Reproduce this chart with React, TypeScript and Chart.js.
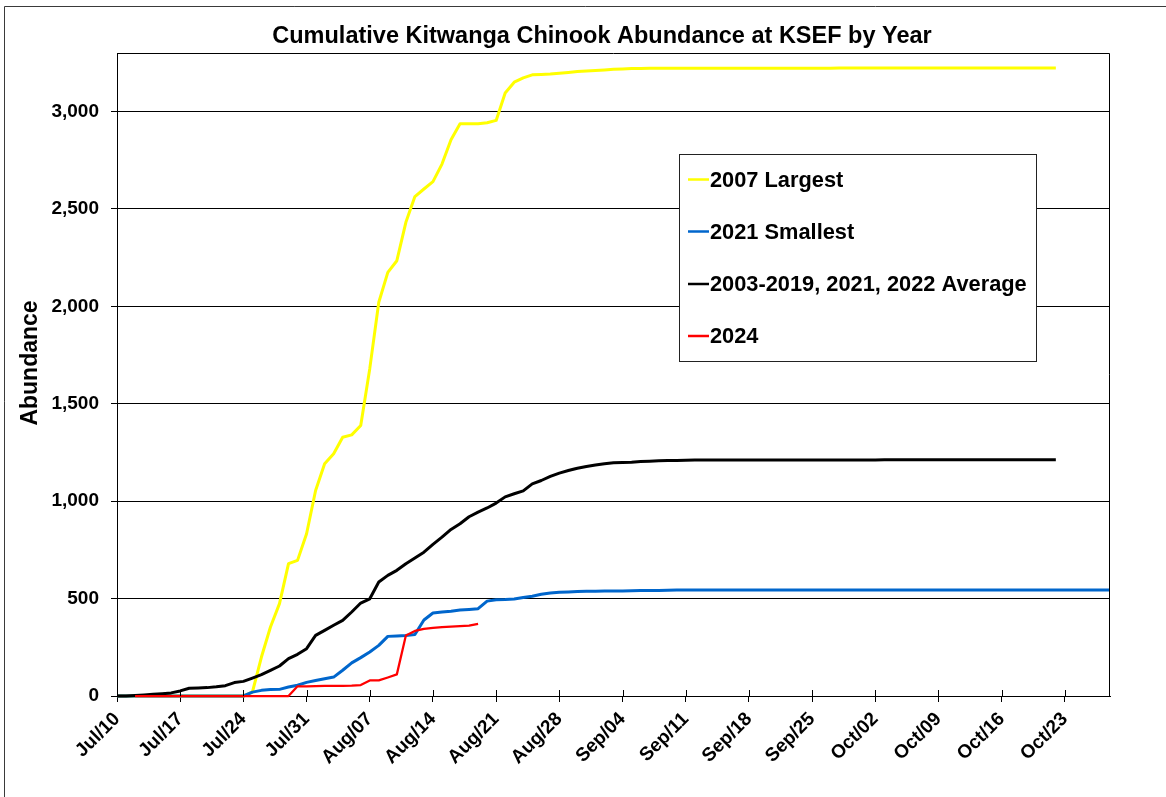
import React, { useEffect, useRef } from 'react';
import { Chart, registerables } from 'chart.js';

Chart.register(...registerables);

// ---- Data ----
const START_YEAR = 2024;
const START_MONTH = 6; // July (0-based)
const START_DATE = 10; // Jul/10 = day 0
const X_MAX_DAY = 110;
const X_TICK_DAYS = [0, 7, 14, 21, 28, 35, 42, 49, 56, 63, 70, 77, 84, 91, 98, 105];
const Y_MAX = 3300;
const Y_TICKS = [0, 500, 1000, 1500, 2000, 2500, 3000];
const MONTH_NAMES = ['Jan', 'Feb', 'Mar', 'Apr', 'May', 'Jun', 'Jul', 'Aug', 'Sep', 'Oct', 'Nov', 'Dec'];

const TITLE = 'Cumulative Kitwanga Chinook Abundance at KSEF by Year';
const Y_TITLE = 'Abundance';
const SERIES_NAMES = ['2007 Largest', '2021 Smallest', '2003-2019, 2021, 2022 Average', '2024'];
const SERIES_COLORS = ['#FFFF00', '#0066CC', '#000000', '#FF0000'];

// day offsets (from Jul/10) at which each series starts
const START_2007 = 0;
const START_2021 = 0;
const START_AVG = 0;
const START_2024 = 2;

// 2007 Largest, days 0..104
const largest2007 = [
  0, 0, 0, 0, 0, 0, 0, 0, 0, 0, 0, 0, 0, 0, 0,
  20, 200, 354, 474, 679, 696, 833, 1055, 1192, 1243,
  1328, 1340, 1388, 1680, 2021, 2174, 2234, 2431, 2563, 2602,
  2640, 2730, 2855, 2937, 2937, 2937, 2942, 2954, 3095, 3150,
  3172, 3188, 3190, 3192, 3196, 3200, 3205, 3208, 3210, 3213,
  3216, 3218, 3220, 3221, 3222,
  3222, 3222, 3222, 3222, 3222, 3222, 3222, 3222, 3222, 3222,
  3222, 3222, 3222, 3222, 3222, 3222, 3222, 3222, 3222, 3222,
  3223, 3223, 3223, 3223, 3223, 3223, 3223, 3223, 3223, 3223,
  3223, 3223, 3223, 3223, 3223, 3223, 3223, 3223, 3223, 3223,
  3223, 3223, 3223, 3223, 3223,
];

// 2021 Smallest, days 0..110
const smallest2021 = [
  0, 0, 0, 0, 0, 0, 0, 0, 0, 0, 0, 0, 0, 0, 0,
  20, 29, 33, 34, 46, 55, 70, 80, 89, 97,
  132, 170, 197, 226, 260, 306, 308, 311, 316, 390,
  426, 431, 435, 441, 444, 448, 487, 494, 495, 498,
  506, 512, 522, 529, 532, 534, 536, 537, 538, 539,
  539, 539, 540, 541, 542, 542, 543, 544,
  544, 544, 544, 544, 544, 544, 544, 544, 544, 544,
  544, 544, 544, 544, 544, 544, 544, 544, 544, 544,
  544, 544, 544, 544, 544, 544, 544, 544, 544, 544,
  544, 544, 544, 544, 544, 544, 544, 544, 544, 544,
  544, 544, 544, 544, 544, 544, 544, 544,
];

// 2003-2019, 2021, 2022 Average, days 0..104
const average = [
  0, 0, 2, 5, 9, 12, 16, 26, 40, 41,
  43, 47, 53, 69, 75, 92, 110, 132, 154, 192,
  214, 243, 311, 337, 363, 388, 431, 477, 499, 585,
  619, 645, 679, 708, 738, 778, 815, 855, 884, 920,
  944, 965, 990, 1022, 1038, 1053, 1089, 1106, 1127, 1144,
  1157, 1169, 1178, 1185, 1192, 1197, 1199, 1200, 1203, 1205,
  1207, 1208, 1209, 1210, 1211,
  1211, 1211, 1211, 1211, 1211, 1211, 1211, 1211, 1211, 1211,
  1211, 1211, 1211, 1211, 1211, 1211, 1211, 1211, 1211, 1211,
  1212, 1212, 1212, 1212, 1212, 1212, 1212, 1212, 1212, 1212,
  1212, 1212, 1212, 1212, 1212, 1212, 1212, 1212, 1212, 1212,
];

// 2024, days 2..40
const year2024 = [
  0, 0, 0, 0, 0, 0, 0, 0, 0, 0, 0, 0, 0, 0, 0, 0, 0, 0,
  50, 50, 51, 52, 52, 52, 53, 56, 80, 80,
  95, 111, 311, 334, 344, 350, 354, 356, 358, 361, 370,
];

// ---- helpers ----
const FONT = "'Liberation Sans', Arial, Helvetica, sans-serif";

function dayLabel(v: number): string {
  const d = new Date(START_YEAR, START_MONTH, START_DATE + v);
  return MONTH_NAMES[d.getMonth()] + '/' + String(d.getDate()).padStart(2, '0');
}

function toPoints(values: number[], start: number) {
  return values.map((y, i) => ({ x: start + i, y }));
}

const decorPlugin = {
  id: 'decor',
  beforeDraw(chart: any) {
    const ctx = chart.ctx;
    ctx.save();
    ctx.fillStyle = '#ffffff';
    ctx.fillRect(0, 0, chart.width, chart.height);
    ctx.strokeStyle = '#3a3a3a';
    ctx.lineWidth = 1;
    ctx.beginPath();
    ctx.moveTo(4.5, chart.height);
    ctx.lineTo(4.5, 6.5);
    ctx.lineTo(chart.width, 6.5);
    ctx.stroke();
    ctx.restore();
  },
  afterDraw(chart: any) {
    const ctx = chart.ctx;
    const a = chart.chartArea;
    const xs = chart.scales.x;
    ctx.save();
    // plot border top/right
    ctx.strokeStyle = '#000';
    ctx.lineWidth = 1;
    ctx.beginPath();
    ctx.moveTo(Math.round(a.left) + 0.5, Math.round(a.top) + 0.5);
    ctx.lineTo(Math.round(a.right) - 0.5, Math.round(a.top) + 0.5);
    ctx.lineTo(Math.round(a.right) - 0.5, Math.round(a.bottom));
    ctx.stroke();
    // x tick marks crossing the axis (upper half)
    ctx.beginPath();
    xs.ticks.forEach((t: any) => {
      const px = Math.round(xs.getPixelForValue(t.value)) + 0.5;
      ctx.moveTo(px, a.bottom - 6);
      ctx.lineTo(px, a.bottom);
    });
    ctx.stroke();

    // title
    ctx.fillStyle = '#000';
    ctx.font = `bold 23.5px ${FONT}`;
    ctx.textAlign = 'center';
    ctx.textBaseline = 'alphabetic';
    ctx.fillText(TITLE, 602, 43);

    // y title
    ctx.save();
    ctx.translate(36.5, 363);
    ctx.rotate(-Math.PI / 2);
    ctx.font = `bold 23px ${FONT}`;
    ctx.textAlign = 'center';
    ctx.fillText(Y_TITLE, 0, 0);
    ctx.restore();

    // legend box
    const lx = 679.5, ly = 154.5, lw = 357, lh = 207;
    ctx.fillStyle = '#fff';
    ctx.fillRect(lx, ly, lw, lh);
    ctx.strokeStyle = '#222';
    ctx.lineWidth = 1;
    ctx.strokeRect(lx, ly, lw, lh);
    const baselines = [186.5, 238.5, 291, 343];
    ctx.font = `bold 21.8px ${FONT}`;
    ctx.textAlign = 'left';
    SERIES_NAMES.forEach((name, i) => {
      const by = baselines[i];
      ctx.strokeStyle = SERIES_COLORS[i];
      ctx.lineWidth = 2.5;
      ctx.beginPath();
      ctx.moveTo(688, by - 7);
      ctx.lineTo(709, by - 7);
      ctx.stroke();
      ctx.fillStyle = '#000';
      ctx.fillText(name, 710, by);
    });
    ctx.restore();
  },
};

export default function App() {
  const canvasRef = useRef<HTMLCanvasElement | null>(null);

  useEffect(() => {
    document.body.style.margin = '0';
    const canvas = canvasRef.current;
    if (!canvas) return;
    const tickFont = { family: FONT, size: 19, weight: 'bold' as const };
    const chart = new Chart(canvas, {
      type: 'line',
      data: {
        datasets: [
          {
            label: SERIES_NAMES[0],
            data: toPoints(largest2007, START_2007),
            borderColor: SERIES_COLORS[0],
            borderWidth: 3,
            order: 3,
            clip: false,
          },
          {
            label: SERIES_NAMES[1],
            data: toPoints(smallest2021, START_2021),
            borderColor: SERIES_COLORS[1],
            borderWidth: 3,
            order: 2,
            clip: false,
          },
          {
            label: SERIES_NAMES[2],
            data: toPoints(average, START_AVG),
            borderColor: SERIES_COLORS[2],
            borderWidth: 3,
            order: 1,
            clip: false,
          },
          {
            label: SERIES_NAMES[3],
            data: toPoints(year2024, START_2024),
            borderColor: SERIES_COLORS[3],
            borderWidth: 2.25,
            order: 0,
            clip: false,
          },
        ],
      },
      options: {
        animation: false,
        responsive: false,
        maintainAspectRatio: false,
        layout: { padding: { left: 0, top: 53, right: 56, bottom: 0 } },
        elements: {
          point: { radius: 0, hoverRadius: 0 },
          line: { tension: 0, fill: false, borderJoinStyle: 'round', borderCapStyle: 'butt' },
        },
        plugins: {
          legend: { display: false },
          title: { display: false },
          tooltip: { enabled: false },
        },
        scales: {
          x: {
            type: 'linear',
            min: 0,
            max: X_MAX_DAY,
            afterBuildTicks: (s: any) => {
              s.ticks = X_TICK_DAYS.map((v) => ({ value: v }));
            },
            afterFit: (s: any) => {
              s.height = 101;
            },
            grid: {
              display: true,
              drawOnChartArea: false,
              drawTicks: true,
              tickLength: 6,
              color: '#000',
              tickColor: '#000',
            },
            border: { display: true, color: '#000', width: 1 },
            ticks: {
              autoSkip: false,
              maxRotation: 45,
              minRotation: 45,
              padding: 6,
              color: '#000',
              font: tickFont,
              callback: (v: any) => dayLabel(Number(v)),
            },
          },
          y: {
            type: 'linear',
            min: 0,
            max: Y_MAX,
            afterBuildTicks: (s: any) => {
              s.ticks = Y_TICKS.map((v) => ({ value: v }));
            },
            afterFit: (s: any) => {
              s.width = 117;
            },
            grid: {
              display: true,
              drawOnChartArea: true,
              drawTicks: true,
              tickLength: 6,
              color: '#000',
              tickColor: '#000',
              lineWidth: 1,
            },
            border: { display: true, color: '#000', width: 1 },
            ticks: {
              autoSkip: false,
              padding: 12,
              color: '#000',
              font: tickFont,
              callback: (v: any) => Number(v).toLocaleString('en-US'),
            },
          },
        },
      },
      plugins: [decorPlugin],
    });
    return () => chart.destroy();
  }, []);

  return (
    <div style={{ width: 1166, height: 797 }}>
      <canvas ref={canvasRef} width={1166} height={797} style={{ display: 'block', width: 1166, height: 797 }} />
    </div>
  );
}
